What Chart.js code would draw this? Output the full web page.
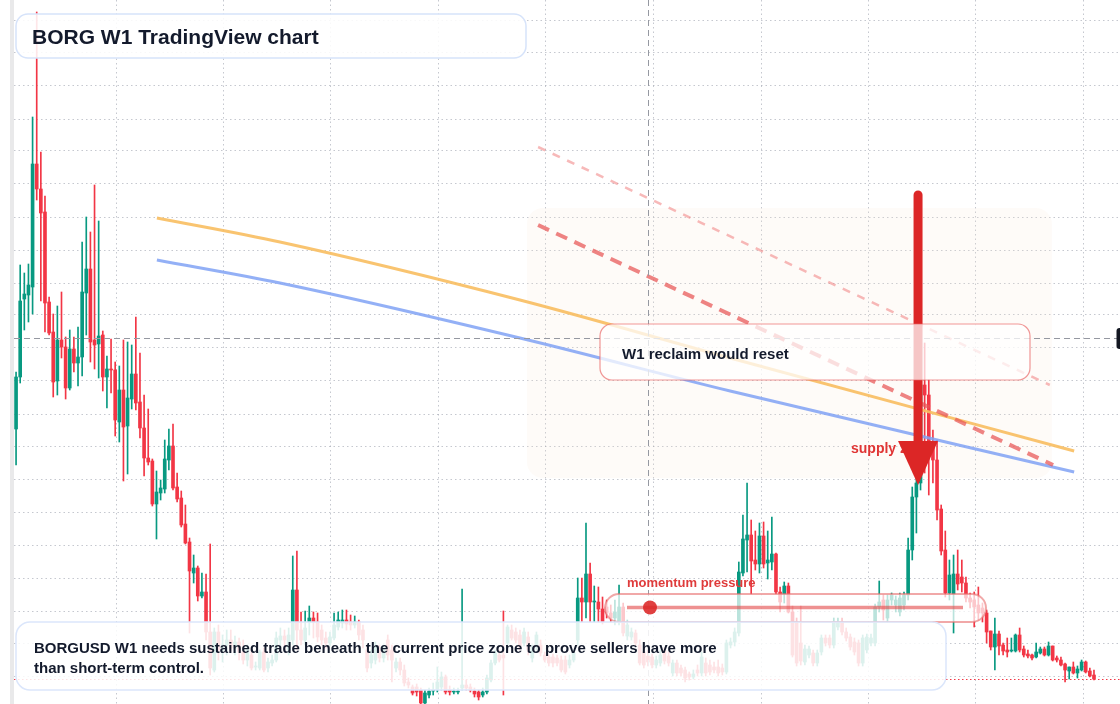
<!DOCTYPE html>
<html lang="en">
<head>
<meta charset="utf-8">
<title>BORG W1 TradingView chart</title>
<script src="https://cdn.jsdelivr.net/npm/chart.js@4.4.1/dist/chart.umd.min.js"></script>
<style>
  html, body { margin: 0; padding: 0; background: #ffffff; }
  #wrap { position: relative; width: 1120px; height: 704px; }
</style>
</head>
<body>
<div id="wrap"><canvas id="borgChart"></canvas></div>
<script>
// BORGUSD weekly candles (index 0 = first week shown).
const OPEN = [
  .280,.332,.410,.414,.422,.545,.520,.497,.407,.377,
  .328,.369,.362,.321,.360,.346,.352,.416,.440,.369,
  .365,.374,.332,.340,.339,.287,.319,.283,.310,.335,
  .307,.281,.251,.248,.205,.216,.220,.249,.263,.222,
  .211,.185,.167,.136,.141,.113,.117,.077,.039,.077,
  .059,.064,.069,.061,.067,.057,.049,.054,.042,.041,
  .057,.041,.046,.049,.069,.073,.059,.069,.119,.079,
  .069,.087,.091,.087,.079,.071,.066,.071,.082,.086,
  .089,.087,.084,.087,.079,.059,.046,.049,.059,.051,
  .069,.059,.041,.047,.039,.027,.022,.022,.019,.006,
  .014,.018,.019,.022,.032,.019,.017,.017,.021,.024,
  .022,.018,.017,.014,.017,.029,.046,.054,.054,.066,
  .079,.077,.074,.066,.072,.051,.062,.064,.054,.052,
  .052,.051,.049,.049,.044,.049,.069,.111,.107,.135,
  .107,.107,.100,.102,.096,.091,.087,.102,.073,.072,
  .076,.064,.057,.053,.052,.044,.046,.058,.053,.036,
  .046,.041,.039,.035,.032,.039,.036,.046,.044,.042,
  .042,.041,.037,.064,.067,.076,.136,.169,.174,.149,
  .145,.173,.146,.147,.155,.117,.115,.123,.097,.087,
  .066,.047,.054,.056,.046,.057,.071,.071,.064,.082,
  .087,.077,.072,.067,.066,.046,.059,.066,.066,.102,
  .109,.091,.109,.104,.097,.104,.114,.159,.212,.226,
  .324,.314,.267,.249,.200,.159,.116,.115,.135,.132,
  .126,.111,.109,.104,.101,.096,.078,.062,.075,.064,
  .059,.058,.058,.074,.060,.055,.054,.052,.056,.060,
  .054,.063,.051,.049,.045,.038,.042,.036,.039,.047,
  .038,.034
];
const HIGH = [
  .337,.444,.436,.445,.592,.697,.557,.513,.412,.395,
  .403,.417,.372,.379,.372,.382,.467,.492,.477,.524,
  .488,.378,.353,.370,.347,.343,.369,.367,.364,.392,
  .356,.314,.300,.250,.238,.229,.269,.280,.285,.236,
  .218,.204,.171,.154,.143,.136,.135,.165,.081,.084,
  .074,.079,.079,.073,.071,.069,.064,.059,.047,.059,
  .061,.051,.054,.077,.081,.079,.081,.153,.158,.097,
  .098,.103,.097,.096,.084,.077,.077,.096,.097,.099,
  .099,.094,.093,.089,.084,.064,.059,.067,.064,.064,
  .074,.064,.051,.051,.044,.031,.024,.025,.021,.019,
  .021,.026,.042,.037,.034,.023,.021,.021,.120,.029,
  .025,.021,.019,.021,.034,.049,.059,.059,.098,.084,
  .084,.081,.079,.081,.077,.064,.077,.069,.057,.054,
  .055,.054,.053,.053,.054,.059,.131,.131,.186,.146,
  .123,.122,.112,.109,.104,.109,.124,.106,.089,.081,
  .079,.069,.061,.059,.055,.053,.059,.061,.057,.049,
  .049,.044,.042,.037,.039,.044,.057,.051,.049,.047,
  .049,.045,.069,.071,.081,.147,.194,.226,.189,.178,
  .186,.187,.178,.192,.156,.122,.127,.126,.103,.091,
  .103,.064,.063,.059,.059,.074,.074,.074,.091,.091,
  .091,.081,.075,.071,.069,.074,.075,.075,.105,.128,
  .114,.114,.116,.113,.116,.117,.171,.222,.239,.329,
  .366,.329,.279,.269,.204,.178,.149,.154,.159,.149,
  .132,.116,.117,.122,.106,.099,.078,.091,.078,.066,
  .071,.071,.075,.081,.063,.059,.055,.066,.062,.062,
  .067,.063,.053,.052,.046,.042,.047,.043,.049,.048,
  .041,.039
];
const LOW = [
  .244,.326,.379,.387,.395,.509,.408,.377,.374,.312,
  .314,.351,.310,.319,.337,.323,.333,.374,.347,.340,
  .331,.318,.301,.316,.273,.267,.228,.235,.300,.299,
  .271,.233,.244,.203,.170,.209,.216,.239,.219,.207,
  .182,.165,.076,.126,.108,.111,.069,.034,.037,.049,
  .047,.054,.057,.054,.049,.045,.043,.039,.039,.039,
  .037,.037,.043,.047,.061,.059,.054,.064,.059,.064,
  .064,.074,.071,.067,.064,.061,.063,.069,.079,.081,
  .079,.079,.081,.069,.061,.037,.041,.045,.047,.047,
  .049,.027,.037,.034,.023,.021,.014,.013,.005,.005,
  .011,.014,.017,.019,.015,.014,.015,.015,.019,.019,
  .017,.012,.009,.012,.015,.027,.044,.047,.014,.061,
  .069,.066,.059,.063,.054,.047,.059,.053,.047,.043,
  .042,.043,.037,.035,.041,.047,.064,.087,.091,.087,
  .087,.087,.085,.091,.087,.084,.084,.073,.069,.069,
  .063,.044,.041,.043,.041,.041,.043,.045,.043,.033,
  .033,.033,.027,.029,.030,.033,.033,.033,.034,.036,
  .033,.034,.035,.061,.063,.073,.133,.137,.115,.139,
  .136,.141,.130,.139,.115,.097,.106,.096,.052,.043,
  .044,.044,.051,.043,.043,.054,.063,.061,.061,.079,
  .074,.068,.059,.054,.043,.043,.056,.063,.063,.097,
  .089,.087,.104,.097,.093,.099,.109,.149,.176,.219,
  .236,.214,.226,.189,.154,.112,.109,.076,.119,.117,
  .107,.101,.082,.089,.087,.066,.059,.039,.054,.054,
  .052,.057,.057,.057,.052,.051,.049,.051,.055,.053,
  .053,.048,.047,.043,.027,.030,.035,.031,.038,.036,
  .032,.029
];
const CLOSE = [
  .332,.408,.415,.424,.545,.520,.496,.406,.376,.327,
  .369,.362,.321,.360,.346,.352,.417,.440,.367,.364,
  .373,.332,.340,.339,.289,.319,.282,.311,.335,.306,
  .281,.251,.247,.205,.217,.221,.250,.263,.221,.210,
  .184,.166,.138,.141,.113,.117,.077,.041,.077,.059,
  .064,.069,.061,.067,.057,.049,.059,.041,.042,.057,
  .039,.047,.049,.071,.073,.069,.074,.119,.079,.069,
  .081,.091,.087,.072,.069,.066,.072,.084,.089,.089,
  .085,.084,.087,.074,.069,.041,.054,.062,.051,.059,
  .054,.049,.047,.039,.026,.024,.016,.017,.006,.016,
  .018,.019,.027,.032,.017,.017,.018,.018,.024,.021,
  .019,.015,.012,.017,.031,.046,.056,.049,.051,.082,
  .071,.069,.062,.077,.059,.062,.074,.056,.049,.046,
  .046,.046,.039,.037,.049,.056,.111,.107,.135,.107,
  .108,.100,.087,.096,.091,.097,.102,.076,.084,.077,
  .066,.046,.044,.047,.044,.049,.054,.048,.046,.046,
  .036,.036,.031,.032,.035,.036,.052,.036,.037,.039,
  .036,.037,.066,.067,.077,.137,.170,.174,.148,.145,
  .173,.145,.149,.155,.117,.107,.123,.097,.054,.046,
  .048,.060,.060,.046,.056,.071,.066,.064,.087,.087,
  .077,.071,.062,.057,.046,.071,.072,.071,.102,.107,
  .099,.109,.114,.109,.111,.114,.159,.212,.226,.324,
  .314,.264,.249,.199,.158,.116,.134,.135,.125,.126,
  .111,.107,.102,.096,.096,.077,.062,.075,.063,.058,
  .057,.059,.074,.059,.054,.053,.051,.057,.060,.054,
  .063,.049,.049,.044,.039,.042,.036,.040,.047,.037,
  .033,.030
];

// Grid lines of the screenshot (x = candle index, y = price).
const X_GRID = [24.2, 50.2, 76.2, 102.3, 128.3, 154.3, 180.4, 206.4, 232.4, 258.4];
const Y_GRID = [.033,.066,.098,.131,.164,.197,.230,.262,.295,.328,.361,.394,.426,.459,.492,.525,.558,.590,.623,.656,.689];

// Drawn studies / annotations, in candle index and price.
const MA_X = [34.1, 63.9, 122.0, 172.9, 256.2];
const MA_FAST = [.491, .467, .409, .351, .258];
const MA_SLOW = [.449, .426, .371, .318, .237];
const TREND_X = [126.4, 251.1];
const TREND_Y = [.484, .244];
const TREND_UPPER_X = [126.4, 250.3];
const TREND_UPPER_Y = [.562, .324];
const ZONE = { from: 123.7, to: 250.8, top: .501, bottom: .231 };
const ARROW = { index: 218.4, from: .514, to: .224 };
const CROSSHAIR = { index: 153.0, price: .371 };

const TITLE = 'BORG W1 TradingView chart';
const NOTE_LINES = [
  'BORGUSD W1 needs sustained trade beneath the current price zone to prove sellers have more',
  'than short-term control.'
];
const RECLAIM_TEXT = 'W1 reclaim would reset';
const SUPPLY_TEXT = 'supply zone';
const MOMENTUM_TEXT = 'momentum pressure';

if ([HIGH, LOW, CLOSE].some(a => a.length !== OPEN.length)) {
  throw new Error('OHLC arrays differ in length: ' + [OPEN, HIGH, LOW, CLOSE].map(a => a.length).join(','));
}

const UP = '#089981';
const DOWN = '#f23645';
const FONT = "'Liberation Sans', Arial, sans-serif";
const INK = '#131a2c';

function roundedRect(ctx, x, y, w, h, r) {
  ctx.beginPath();
  ctx.moveTo(x + r, y);
  ctx.lineTo(x + w - r, y);
  ctx.arcTo(x + w, y, x + w, y + r, r);
  ctx.lineTo(x + w, y + h - r);
  ctx.arcTo(x + w, y + h, x + w - r, y + h, r);
  ctx.lineTo(x + r, y + h);
  ctx.arcTo(x, y + h, x, y + h - r, r);
  ctx.lineTo(x, y + r);
  ctx.arcTo(x, y, x + r, y, r);
  ctx.closePath();
}

function panel(ctx, x, y, w, h, r, fill, stroke, lw) {
  roundedRect(ctx, x, y, w, h, r);
  ctx.fillStyle = fill;
  ctx.fill();
  ctx.lineWidth = lw;
  ctx.strokeStyle = stroke;
  ctx.stroke();
}

const overlay = {
  id: 'borgOverlay',
  beforeDatasetsDraw(chart) {
    const { ctx, scales: { x, y } } = chart;
    const x0 = x.getPixelForValue(ZONE.from), x1 = x.getPixelForValue(ZONE.to);
    const y0 = y.getPixelForValue(ZONE.top), y1 = y.getPixelForValue(ZONE.bottom);
    ctx.save();
    roundedRect(ctx, x0, y0, x1 - x0, y1 - y0, 16);
    ctx.fillStyle = 'rgba(246, 228, 210, 0.16)';
    ctx.fill();
    ctx.restore();
  },
  afterDatasetsDraw(chart) {
    const { ctx, chartArea, scales: { x, y } } = chart;
    ctx.save();

    // last price line
    const lastY = Math.round(y.getPixelForValue(CLOSE[CLOSE.length - 1])) + 0.5;
    ctx.setLineDash([1.5, 2.5]);
    ctx.strokeStyle = DOWN;
    ctx.lineWidth = 1;
    ctx.beginPath();
    ctx.moveTo(chartArea.left, lastY);
    ctx.lineTo(chartArea.right, lastY);
    ctx.stroke();

    // crosshair
    const cx = Math.round(x.getPixelForValue(CROSSHAIR.index)) + 0.5;
    const cy = Math.round(y.getPixelForValue(CROSSHAIR.price)) + 0.5;
    ctx.setLineDash([6, 4]);
    ctx.strokeStyle = '#9598a1';
    ctx.beginPath();
    ctx.moveTo(cx, chartArea.top);
    ctx.lineTo(cx, chartArea.bottom);
    ctx.moveTo(chartArea.left, cy);
    ctx.lineTo(chartArea.right, cy);
    ctx.stroke();
    ctx.setLineDash([]);

    // supply label (sits under the arrow)
    ctx.font = `bold 14px ${FONT}`;
    ctx.fillStyle = '#e03535';
    ctx.textBaseline = 'alphabetic';
    ctx.fillText(SUPPLY_TEXT, 851, 453);

    // arrow
    const ax = x.getPixelForValue(ARROW.index);
    const ayTop = y.getPixelForValue(ARROW.from);
    const ayTip = y.getPixelForValue(ARROW.to);
    const headH = 44, headW = 20;
    ctx.strokeStyle = '#dc2626';
    ctx.fillStyle = '#dc2626';
    ctx.lineWidth = 9;
    ctx.lineCap = 'round';
    ctx.beginPath();
    ctx.moveTo(ax, ayTop);
    ctx.lineTo(ax, ayTip - headH + 2);
    ctx.stroke();
    ctx.lineCap = 'butt';
    ctx.beginPath();
    ctx.moveTo(ax - headW, ayTip - headH);
    ctx.lineTo(ax + headW, ayTip - headH);
    ctx.lineTo(ax, ayTip);
    ctx.closePath();
    ctx.fill();

    // reclaim callout
    panel(ctx, 600, 324, 430, 56, 12, 'rgba(255,255,255,0.74)', 'rgba(232, 96, 96, 0.65)', 1.2);
    ctx.font = `bold 15px ${FONT}`;
    ctx.fillStyle = INK;
    ctx.fillText(RECLAIM_TEXT, 622, 359);

    // momentum pill
    ctx.font = `bold 13px ${FONT}`;
    ctx.fillStyle = '#df3b3b';
    ctx.fillText(MOMENTUM_TEXT, 627, 587);
    panel(ctx, 605, 594, 381, 28, 14, 'rgba(255,255,255,0.72)', 'rgba(232, 110, 110, 0.6)', 2);
    ctx.strokeStyle = 'rgba(226, 72, 72, 0.6)';
    ctx.lineWidth = 3.5;
    ctx.beginPath();
    ctx.moveTo(627, 607.5);
    ctx.lineTo(963, 607.5);
    ctx.stroke();
    ctx.fillStyle = 'rgba(220, 38, 38, 0.88)';
    ctx.beginPath();
    ctx.arc(650, 607.5, 7, 0, Math.PI * 2);
    ctx.fill();

    // note box
    panel(ctx, 16, 622, 930, 68, 14, 'rgba(255,255,255,0.86)', '#dbe6fb', 1.5);
    ctx.font = `bold 15px ${FONT}`;
    ctx.fillStyle = INK;
    NOTE_LINES.forEach((line, i) => ctx.fillText(line, 34, 653 + i * 20));

    // title box
    panel(ctx, 16, 14, 510, 44, 12, 'rgba(255,255,255,0.88)', '#d6e3fa', 1.5);
    ctx.font = `bold 21px ${FONT}`;
    ctx.fillStyle = INK;
    ctx.fillText(TITLE, 32, 43.5);

    // crosshair price tag, cut by the right edge
    roundedRect(ctx, 1116.5, 328, 12, 21, 3);
    ctx.fillStyle = '#131722';
    ctx.fill();

    // left pane separator
    ctx.fillStyle = '#e9e9ea';
    ctx.fillRect(10, 0, 4, 704);

    ctx.restore();
  }
};

const colors = OPEN.map((o, i) => (CLOSE[i] >= o ? UP : DOWN));
const points = (xs, ys) => xs.map((v, i) => ({ x: v, y: ys[i] }));

new Chart(document.getElementById('borgChart'), {
  type: 'bar',
  data: {
    datasets: [
      {
        type: 'line', label: 'Trend upper', data: points(TREND_UPPER_X, TREND_UPPER_Y),
        borderColor: 'rgba(240, 128, 128, 0.55)', borderWidth: 2.5, borderDash: [8, 8],
        pointRadius: 0, order: 1
      },
      {
        type: 'line', label: 'Trend', data: points(TREND_X, TREND_Y),
        borderColor: 'rgba(232, 84, 84, 0.72)', borderWidth: 4, borderDash: [12, 8],
        pointRadius: 0, order: 1
      },
      {
        type: 'line', label: 'MA fast', data: points(MA_X, MA_FAST),
        borderColor: 'rgba(248, 190, 96, 0.9)', borderWidth: 3,
        pointRadius: 0, cubicInterpolationMode: 'monotone', order: 2
      },
      {
        type: 'line', label: 'MA slow', data: points(MA_X, MA_SLOW),
        borderColor: 'rgba(128, 162, 244, 0.85)', borderWidth: 3,
        pointRadius: 0, cubicInterpolationMode: 'monotone', order: 2
      },
      {
        label: 'Body', data: OPEN.map((o, i) => ({ x: i, y: [o, CLOSE[i]] })),
        backgroundColor: colors, barThickness: 3, minBarLength: 1, grouped: false, order: 4
      },
      {
        label: 'Wick', data: OPEN.map((_, i) => ({ x: i, y: [LOW[i], HIGH[i]] })),
        backgroundColor: colors, barThickness: 1, grouped: false, order: 5
      }
    ]
  },
  options: {
    responsive: true,
    maintainAspectRatio: false,
    animation: false,
    events: [],
    layout: { padding: { left: 14, right: 0, top: 0, bottom: 0 } },
    plugins: { legend: { display: false }, tooltip: { enabled: false } },
    scales: {
      x: {
        type: 'linear', min: -0.5, max: 267.3, offset: false,
        ticks: { display: false },
        grid: { color: 'rgba(150, 155, 168, 0.55)', drawTicks: false, lineWidth: 1, offset: false },
        border: { display: false, dash: [1.5, 3] },
        afterBuildTicks: (axis) => { axis.ticks = X_GRID.map(v => ({ value: v })); }
      },
      y: {
        min: 0.005, max: 0.709,
        ticks: { display: false },
        grid: { color: 'rgba(150, 155, 168, 0.55)', drawTicks: false, lineWidth: 1 },
        border: { display: false, dash: [1.5, 3] },
        afterBuildTicks: (axis) => { axis.ticks = Y_GRID.map(v => ({ value: v })); }
      }
    }
  },
  plugins: [overlay]
});
</script>
</body>
</html>
